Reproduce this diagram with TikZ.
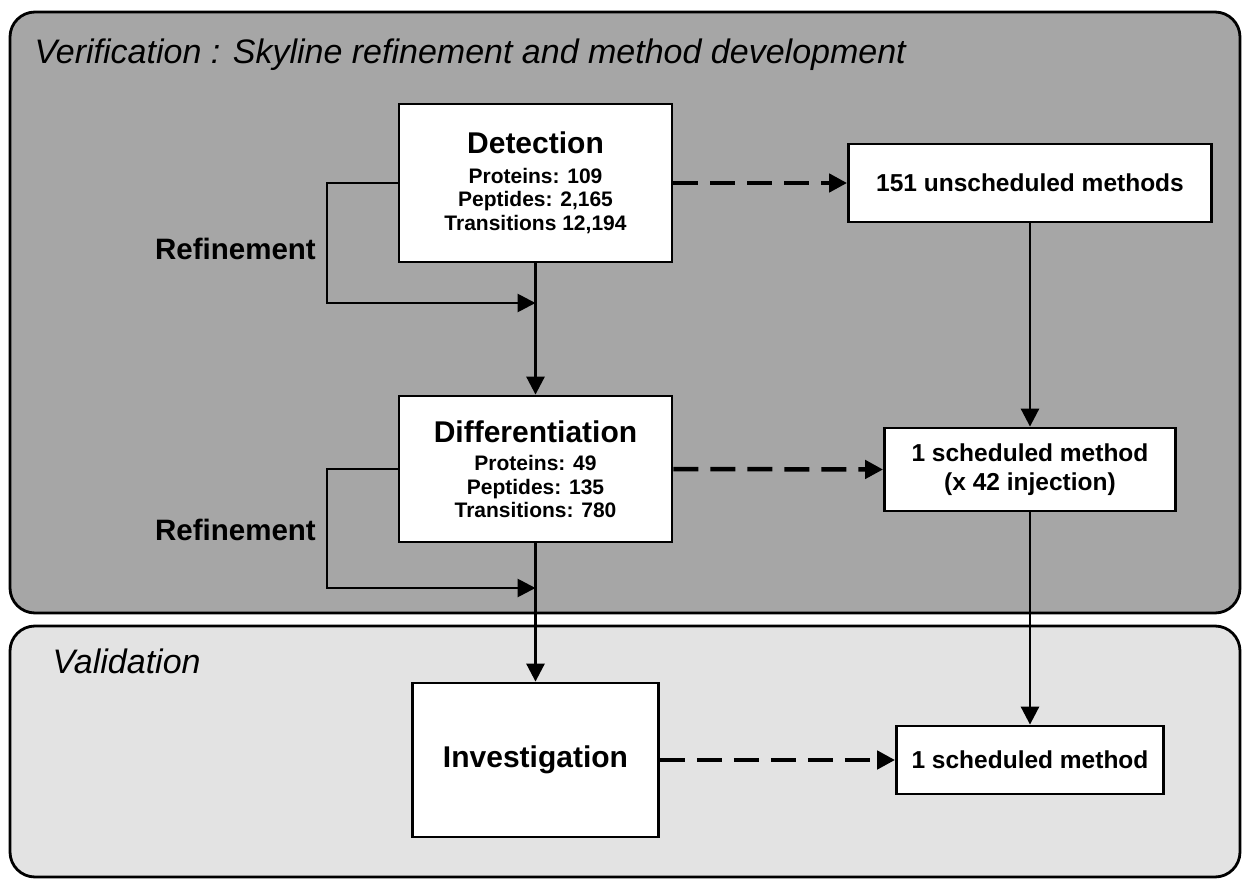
\documentclass[tikz,border=0pt]{standalone}
\usepackage{fontspec}
\setmainfont{Liberation Sans}
\usetikzlibrary{arrows.meta}
\definecolor{verifgray}{HTML}{A6A6A6}
\definecolor{validgray}{HTML}{E3E3E3}

\begin{document}
\begin{tikzpicture}[x=1pt,y=-1pt,
    panel/.style={draw,line width=2.8pt,rounded corners=25pt},
    box/.style={draw,fill=white,line width=2.8pt,inner sep=0pt,align=center,
        font=\bfseries\fontsize{24.5}{29}\selectfont},
    stagebox/.style={box,font=\bfseries\fontsize{21}{23.5}\selectfont},
    link/.style={line width=2.8pt,-{Triangle[length=18pt,width=18pt]}},
    dlink/.style={link,line width=4.5pt,dash pattern=on 25pt off 12pt},
    heading/.style={font=\itshape\fontsize{34}{40}\selectfont,anchor=base west},
    refine/.style={font=\bfseries\fontsize{29.5}{34}\selectfont,anchor=base}
]
        \useasboundingbox (0,0) rectangle (1243,880);

        % panels
        \draw[panel,fill=verifgray] (10,12) rectangle (1240,613);
        \draw[panel,fill=validgray] (10,626) rectangle (1240,877);
        \node[heading] (vtitle) at (31,64) {Verification : Skyline refinement and method development};
        \node[heading] (valtitle) at (49,673) {Validation};

        % stages
        \node[stagebox,minimum width=273pt,minimum height=158pt] (det) at (535.5,183)
            {{\fontsize{30}{30}\selectfont Detection}\\[6pt]Proteins: 109\\Peptides: 2,165\\Transitions 12,194};
        \node[stagebox,minimum width=273pt,minimum height=146pt] (diff) at (535.5,469)
            {{\fontsize{30}{30}\selectfont Differentiation}\\[5pt]Proteins: 49\\Peptides: 135\\Transitions: 780};
        \node[box,font=\bfseries\fontsize{30}{34}\selectfont,minimum width=246pt,minimum height=154pt] (inv) at (535.5,760) {Investigation};

        % methods
        \node[box,minimum width=363pt,minimum height=78pt] (uns) at (1030,183) {151 unscheduled methods};
        \node[box,minimum width=291pt,minimum height=83pt] (mid) at (1030,469.5) {1 scheduled method\\(x 42 injection)};
        \node[box,minimum width=267pt,minimum height=68pt] (sched) at (1030,760) {1 scheduled method};

        % refinement loops
        \node[refine] (ref1) at (235.5,259) {Refinement};
        \node[refine] (ref2) at (235.5,540) {Refinement};
        \coordinate (r1) at (327,303);
        \coordinate (r2) at (327,588);
        \draw[link] (det.west) -| (r1) -- (r1 -| det.south);
        \draw[link] (diff.west) -| (r2) -- (r2 -| diff.south);

        % flow
        \draw[link] (det.south) -- (diff.north);
        \draw[link] (diff.south) -- (inv.north);
        \draw[link] (uns.south) -- (mid.north);
        \draw[link] (mid.south) -- (sched.north);

        % dashed links
        \draw[dlink] (det.east) -- (uns.west);
        \draw[dlink] (diff.east) -- (mid.west);
        \draw[dlink] (inv.east) -- (sched.west);
\end{tikzpicture}
\end{document}
